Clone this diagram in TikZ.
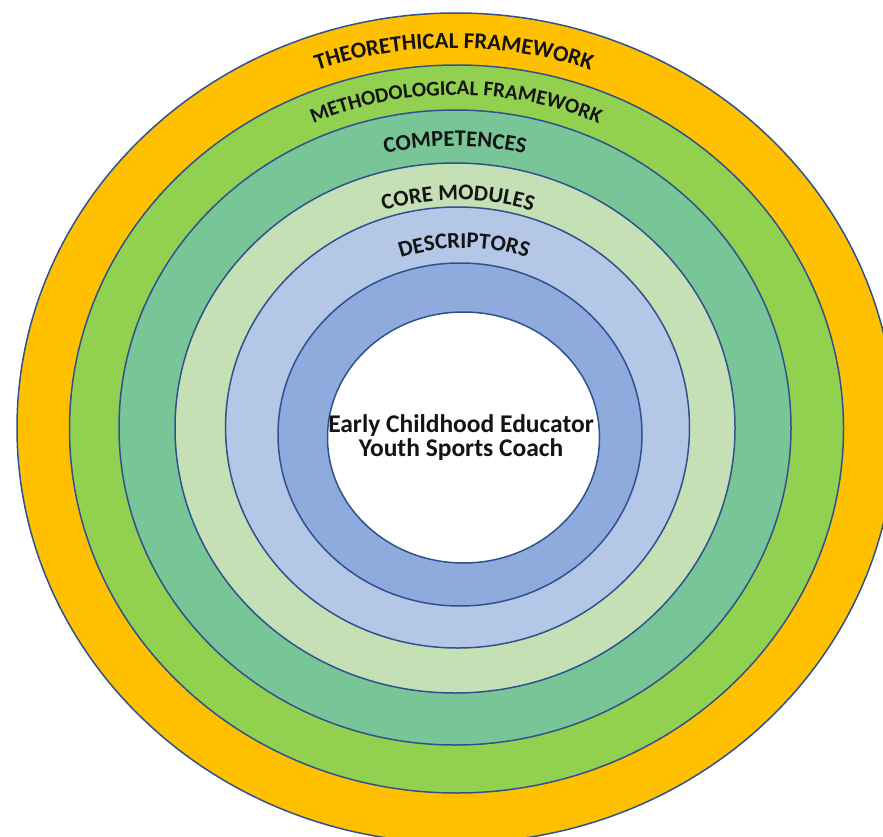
\documentclass[tikz,border=0pt]{standalone}
\usepackage{fontspec}
\setmainfont{Carlito}
\usetikzlibrary{decorations.text}
\definecolor{ringline}{HTML}{2F528F}
\definecolor{cOrange}{HTML}{FFC000}
\definecolor{cGreen}{HTML}{92D050}
\definecolor{cTeal}{HTML}{78C597}
\definecolor{cLightGreen}{HTML}{C5E0B4}
\definecolor{cLightBlue}{HTML}{B4C7E7}
\definecolor{cBlue}{HTML}{8FAADC}
\definecolor{txt}{HTML}{141414}
\begin{document}
\begin{tikzpicture}[x=1pt,y=1pt,
  ring/.style={draw=ringline, line width=1.5pt},
  arclabel/.style={decorate, decoration={text along path, text align=center,
     text color=txt}},
  centerlabel/.style={anchor=base, inner sep=0pt, text=txt,
     font=\bfseries\fontsize{25.5}{25.5}\selectfont}]
\useasboundingbox (0,0) rectangle (883,-837);
\fill[white] (0,0) rectangle (883,-837);
\begin{scope}
\clip (0,0) rectangle (883,-837);
\path[ring, fill=cOrange]     (456,-428)   ellipse [x radius=439, y radius=415];
\path[ring, fill=cGreen]      (456.5,-429) ellipse [x radius=387, y radius=364];
\path[ring, fill=cTeal]       (455,-427.5) ellipse [x radius=336, y radius=317.5];
\path[ring, fill=cLightGreen] (455,-428)   ellipse [x radius=280, y radius=265];
\path[ring, fill=cLightBlue]  (457.5,-427.5) ellipse [x radius=232, y radius=220.5];
\path[ring, fill=cBlue]       (460,-434.5) ellipse [x radius=182, y radius=171.5];
\path[ring, fill=white]       (463.5,-437.5) ellipse [x radius=136, y radius=125.5];
\end{scope}
% ring labels
\path[arclabel, decoration={text={|\bfseries\fontsize{22.8}{22.8}\selectfont|THEORETHICAL FRAMEWORK}}]
  (50,-428) arc [start angle=180, end angle=0, x radius=404, y radius=380];
\path[arclabel, decoration={text={|\bfseries\fontsize{21}{21}\selectfont|METHODOLOGICAL FRAMEWORK}}]
  (103,-428) arc [start angle=180, end angle=0, x radius=353, y radius=333];
\path[arclabel, decoration={text={|\bfseries\fontsize{22.6}{22.6}\selectfont|COMPETENCES}}]
  (156,-428) arc [start angle=180, end angle=0, x radius=299, y radius=282];
\path[arclabel, decoration={text={|\bfseries\fontsize{22.5}{22.5}\selectfont|CORE MODULES}}]
  (216,-428) arc [start angle=180, end angle=0, x radius=242, y radius=228];
\path[arclabel, decoration={text={|\bfseries\fontsize{22.6}{22.6}\selectfont|DESCRIPTORS}}]
  (273,-428) arc [start angle=180, end angle=0, x radius=191, y radius=180];
% centre
\node[centerlabel] (role1) at (461,-432) {Early Childhood Educator};
\node[centerlabel] (role2) at (461,-456) {Youth Sports Coach};
\end{tikzpicture}
\end{document}
